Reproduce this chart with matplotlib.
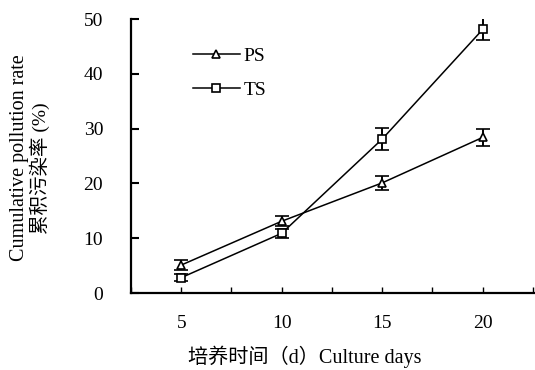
import matplotlib
matplotlib.use("Agg")
from matplotlib import pyplot as plt
from matplotlib.lines import Line2D
from matplotlib.ticker import MultipleLocator

# culture days
days = [5, 10, 15, 20]

# cumulative pollution rate (%)
ps_rate = [5.1, 13.1, 20.1, 28.4]
ps_err = [0.9, 0.9, 1.3, 1.5]
ts_rate = [2.8, 10.9, 28.1, 48.1]
ts_err = [0.7, 0.8, 2.0, 2.0]

serif = ["Liberation Serif", "Noto Sans CJK SC"]

W, H = 535, 370
fig = plt.figure(figsize=(W / 100, H / 100), dpi=100)
ax = fig.add_axes([131 / W, (H - 293) / H, 1 - 131 / W, (293 - 19) / H])

line_kw = dict(color="black", lw=1.1, markersize=6, markerfacecolor="white",
               markeredgecolor="black", markeredgewidth=1.2,
               ecolor="black", elinewidth=1.4, capsize=5, capthick=1.6)
ax.errorbar(days, ps_rate, yerr=ps_err, marker="^", **line_kw)
ax.errorbar(days, ts_rate, yerr=ts_err, marker="s", **line_kw)

ax.set_xlim(2.5, 22.6)
ax.set_ylim(0, 50)
ax.xaxis.set_major_locator(MultipleLocator(5))
ax.xaxis.set_minor_locator(MultipleLocator(2.5))
ax.yaxis.set_major_locator(MultipleLocator(10))

for s in ["top", "right"]:
    ax.spines[s].set_visible(False)
for s in ["left", "bottom"]:
    ax.spines[s].set_linewidth(1.6)

ax.tick_params(axis="y", direction="in", length=6, width=1.5, pad=20)
ax.tick_params(axis="x", which="major", direction="in", length=4, width=1.0, pad=16)
ax.tick_params(axis="x", which="minor", direction="in", length=4, width=1.0)
for lab in ax.get_xticklabels() + ax.get_yticklabels():
    lab.set_family(serif)
    lab.set_fontsize(14)

# legend without error bars
handles = [Line2D([], [], color="black", lw=1.1, marker=m, markersize=6,
                  markerfacecolor="white", markeredgecolor="black",
                  markeredgewidth=1.2) for m in ["^", "s"]]
ax.legend(handles, ["PS", "TS"], loc="upper left", bbox_to_anchor=(0.11, 0.96),
          frameon=False, handlelength=2.4, handletextpad=0.2, labelspacing=0.85,
          prop={"family": serif, "size": 14})

fig.text(305 / W, 1 - 357 / H, "培养时间（d）Culture days", family=serif,
         fontsize=14.5, ha="center", va="center")

fig.text(20 / W, 1 - 158 / H, "Cumulative pollution rate", family=serif,
         fontsize=14.5, rotation=90, ha="center", va="center")
fig.text(40 / W, 1 - 168 / H, "累积污染率 (%)", family=serif,
         fontsize=14, rotation=90, ha="center", va="center")

fig.savefig("out.png", dpi=100)
